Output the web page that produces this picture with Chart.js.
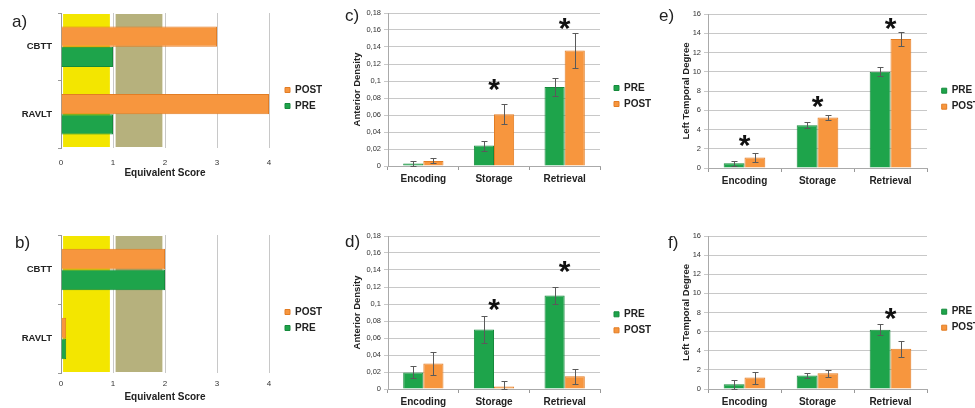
<!DOCTYPE html>
<html>
<head>
<meta charset="utf-8">
<script src="https://cdn.jsdelivr.net/npm/chart.js@4"></script>
<style>
  body { margin: 0; background: #fff; width: 975px; height: 408px; overflow: hidden; position: relative; }
  canvas { position: absolute; }
</style>
</head>
<body>
<canvas id="pa" width="330" height="190" style="left:0px;top:0px"></canvas>
<canvas id="pb" width="330" height="190" style="left:0px;top:222px"></canvas>
<canvas id="pc" width="330" height="192" style="left:330px;top:0px"></canvas>
<canvas id="pd" width="330" height="192" style="left:330px;top:222px"></canvas>
<canvas id="pe" width="325" height="192" style="left:650px;top:0px"></canvas>
<canvas id="pf" width="325" height="192" style="left:650px;top:222px"></canvas>
<script>
// neuropsych tests (a, b)
const tests = ['CBTT', 'RAVLT'];
const aPost = [3, 4];
const aPre = [1, 1];
const bPost = [2, 0.1];
const bPre = [2, 0.1];
const yellowBand = [0.04, 0.94];
const khakiBand = [1.05, 1.95];

// network measures (c - f)
const phases = ['Encoding', 'Storage', 'Retrieval'];
const cPre = [0.003, 0.024, 0.093];
const cPreErr = [0.003, 0.006, 0.011];
const cPost = [0.006, 0.061, 0.136];
const cPostErr = [0.003, 0.012, 0.021];
const cStar = [null, 0.095, 0.167];

const dPre = [0.0195, 0.070, 0.110];
const dPreErr = [0.007, 0.0155, 0.010];
const dPost = [0.030, 0.003, 0.015];
const dPostErr = [0.014, 0.006, 0.009];
const dStar = [null, 0.099, 0.144];

const ePre = [0.5, 4.45, 10.0];
const ePreErr = [0.25, 0.3, 0.45];
const ePost = [1.1, 5.25, 13.4];
const ePostErr = [0.5, 0.3, 0.75];
const eStar = [2.8, 6.9, 15.0];

const fPre = [0.5, 1.4, 6.2];
const fPreErr = [0.45, 0.3, 0.55];
const fPost = [1.2, 1.65, 4.2];
const fPostErr = [0.63, 0.35, 0.85];
const fStar = [null, null, 7.85];

const GREEN = '#1ea44b', GREEN_DK = '#168a3c';
const ORANGE = '#f7963e', ORANGE_DK = '#e27d24';
const FONT = '"Liberation Sans", Arial, sans-serif';
Chart.defaults.font.family = FONT;

// geser legend (chart.js tidak punya margin untuk legend)
const legendShift = {
  id: 'legendShift',
  afterLayout(chart, args, o) {
    const lg = chart.legend;
    if (!lg) return;
    lg.left += o.dx || 0; lg.right += o.dx || 0;
    lg.top += o.dy || 0; lg.bottom += o.dy || 0;
  }
};

const panelLetter = {
  id: 'panelLetter',
  afterDraw(chart, args, o) {
    const ctx = chart.ctx;
    ctx.save();
    ctx.font = '17px ' + FONT;
    ctx.fillStyle = '#222';
    ctx.textBaseline = 'middle';
    ctx.fillText(o.text, o.x, o.y);
    ctx.restore();
  }
};

const bands = {
  id: 'bands',
  beforeDatasetsDraw(chart, args, o) {
    const ctx = chart.ctx, xs = chart.scales.x, area = chart.chartArea;
    ctx.save();
    o.ranges.forEach((r, i) => {
      const x0 = xs.getPixelForValue(r[0]), x1 = xs.getPixelForValue(r[1]);
      ctx.fillStyle = o.colors[i];
      ctx.fillRect(x0, area.top + 1, x1 - x0, area.bottom - area.top - 2);
    });
    ctx.restore();
  }
};

const errorBars = {
  id: 'errorBars',
  afterDatasetsDraw(chart) {
    const ctx = chart.ctx, ys = chart.scales.y;
    ctx.save();
    ctx.strokeStyle = '#5a5a5a';
    ctx.lineWidth = 1;
    chart.data.datasets.forEach((ds, i) => {
      if (!ds.errors) return;
      chart.getDatasetMeta(i).data.forEach((bar, j) => {
        const v = ds.data[j], e = ds.errors[j];
        const x = Math.round(bar.x) + 0.5;
        const top = Math.round(ys.getPixelForValue(v + e)) + 0.5;
        const bot = Math.round(ys.getPixelForValue(Math.max(0, v - e))) + 0.5;
        ctx.beginPath();
        ctx.moveTo(x, top); ctx.lineTo(x, bot);
        ctx.moveTo(x - 3, top); ctx.lineTo(x + 3, top);
        ctx.moveTo(x - 3, bot); ctx.lineTo(x + 3, bot);
        ctx.stroke();
      });
    });
    ctx.restore();
  }
};

const stars = {
  id: 'stars',
  afterDatasetsDraw(chart, args, o) {
    if (!o.values) return;
    const ctx = chart.ctx, xs = chart.scales.x, ys = chart.scales.y;
    ctx.save();
    ctx.font = 'bold 30px ' + FONT;
    ctx.fillStyle = '#111';
    ctx.textAlign = 'center';
    ctx.textBaseline = 'alphabetic';
    const m = ctx.measureText('*');
    const mid = (m.actualBoundingBoxAscent - m.actualBoundingBoxDescent) / 2;
    o.values.forEach((v, i) => {
      if (v == null) return;
      ctx.fillText('*', xs.getPixelForValue(i), ys.getPixelForValue(v) + mid);
    });
    ctx.restore();
  }
};

function legendOpts() {
  return {
    position: 'right',
    maxWidth: 48,
    labels: { boxWidth: 5, boxHeight: 5, padding: 6, font: { size: 10, weight: 'bold' }, color: '#222' }
  };
}

function hPanel(id, post, pre, cfg) {
  return new Chart(document.getElementById(id), {
    type: 'bar',
    data: {
      labels: tests,
      datasets: [
        { label: 'POST', data: post, backgroundColor: ORANGE, borderColor: ORANGE_DK, borderWidth: 1 },
        { label: 'PRE', data: pre, backgroundColor: GREEN, borderColor: GREEN_DK, borderWidth: 1 }
      ]
    },
    options: {
      indexAxis: 'y',
      responsive: false,
      animation: false,
      layout: { padding: { left: 0, top: 13, right: 13, bottom: 0 } },
      datasets: { bar: { categoryPercentage: 0.6, barPercentage: 1 } },
      scales: {
        x: {
          min: 0, max: 4,
          ticks: { stepSize: 1, font: { size: 8 }, color: '#333', padding: cfg.tickPad },
          grid: { color: '#c8c8c8', drawTicks: false },
          border: { display: false },
          title: { display: true, text: 'Equivalent Score', font: { size: 10, weight: 'bold' }, color: '#222', padding: { top: 0, bottom: cfg.titlePad } },
          afterFit: s => { s.height = cfg.xH; }
        },
        y: {
          grid: { offset: true, drawOnChartArea: false, tickLength: 3, color: '#999' },
          border: { color: '#999' },
          ticks: { font: { size: 9.5, weight: 'bold' }, color: '#222', padding: 6 },
          afterFit: s => { s.width = 61; }
        }
      },
      plugins: {
        legend: legendOpts(),
        tooltip: { enabled: false },
        legendShift: { dx: 10, dy: -3.5 },
        panelLetter: { text: cfg.letter, x: cfg.lx, y: cfg.ly },
        bands: { ranges: [yellowBand, khakiBand], colors: ['#f3e600', '#b6b17d'] }
      }
    },
    plugins: [bands, legendShift, panelLetter]
  });
}

function vPanel(id, pre, preErr, post, postErr, starVals, cfg) {
  return new Chart(document.getElementById(id), {
    type: 'bar',
    data: {
      labels: phases,
      datasets: [
        { label: 'PRE', data: pre, errors: preErr, backgroundColor: GREEN, borderColor: GREEN_DK, borderWidth: 1 },
        { label: 'POST', data: post, errors: postErr, backgroundColor: ORANGE, borderColor: ORANGE_DK, borderWidth: 1 }
      ]
    },
    options: {
      responsive: false,
      animation: false,
      layout: { padding: { left: cfg.padL, top: cfg.padT, right: cfg.padR, bottom: 0 } },
      datasets: { bar: { categoryPercentage: 0.57, barPercentage: 1 } },
      scales: {
        x: {
          grid: { offset: true, drawOnChartArea: false, tickLength: 4, color: '#999' },
          border: { color: '#aaa' },
          ticks: { font: { size: 10, weight: 'bold' }, color: '#222', padding: 3 },
          afterFit: s => { s.height = cfg.xH; }
        },
        y: {
          min: 0, max: cfg.max,
          ticks: { stepSize: cfg.step, font: { size: 7.5 }, color: '#333', padding: 3, callback: cfg.fmt },
          grid: { color: '#c8c8c8', tickLength: 4 },
          border: { color: '#aaa' },
          title: { display: true, text: cfg.yTitle, font: { size: 9.5, weight: 'bold' }, color: '#222', padding: { top: 1, bottom: 0 } },
          afterFit: s => { s.width = cfg.yW; }
        }
      },
      plugins: {
        legend: legendOpts(),
        tooltip: { enabled: false },
        legendShift: { dx: cfg.dx, dy: cfg.dy },
        panelLetter: { text: cfg.letter, x: cfg.lx, y: cfg.ly },
        stars: { values: starVals }
      }
    },
    plugins: [legendShift, panelLetter, errorBars, stars]
  });
}

// angka desimal pakai koma
const commaFmt = v => String(+Number(v).toFixed(2)).replace('.', ',');
const intFmt = v => String(v);

hPanel('pa', aPost, aPre, { letter: 'a)', lx: 12, ly: 22, tickPad: 10, titlePad: 10.7, xH: 42 });
hPanel('pb', bPost, bPre, { letter: 'b)', lx: 15, ly: 21, tickPad: 6, titlePad: 8.3, xH: 39 });

vPanel('pc', cPre, cPreErr, cPost, cPostErr, cStar, {
  letter: 'c)', lx: 15, ly: 16, padL: 21, padT: 13, padR: 12, yW: 37, xH: 26,
  max: 0.18, step: 0.02, fmt: commaFmt, yTitle: 'Anterior Density', dx: 8, dy: -6.5
});
vPanel('pd', dPre, dPreErr, dPost, dPostErr, dStar, {
  letter: 'd)', lx: 15, ly: 20, padL: 21, padT: 14, padR: 12, yW: 37, xH: 25,
  max: 0.18, step: 0.02, fmt: commaFmt, yTitle: 'Anterior Density', dx: 8, dy: -2.7
});
vPanel('pe', ePre, ePreErr, ePost, ePostErr, eStar, {
  letter: 'e)', lx: 9, ly: 16, padL: 30, padT: 14, padR: 0, yW: 28, xH: 24,
  max: 16, step: 2, fmt: intFmt, yTitle: 'Left Temporal Degree', dx: 8.7, dy: -4.3
});
vPanel('pf', fPre, fPreErr, fPost, fPostErr, fStar, {
  letter: 'f)', lx: 18, ly: 21, padL: 30, padT: 14, padR: 0, yW: 28, xH: 25,
  max: 16, step: 2, fmt: intFmt, yTitle: 'Left Temporal Degree', dx: 8.7, dy: -5.3
});
</script>
</body>
</html>
